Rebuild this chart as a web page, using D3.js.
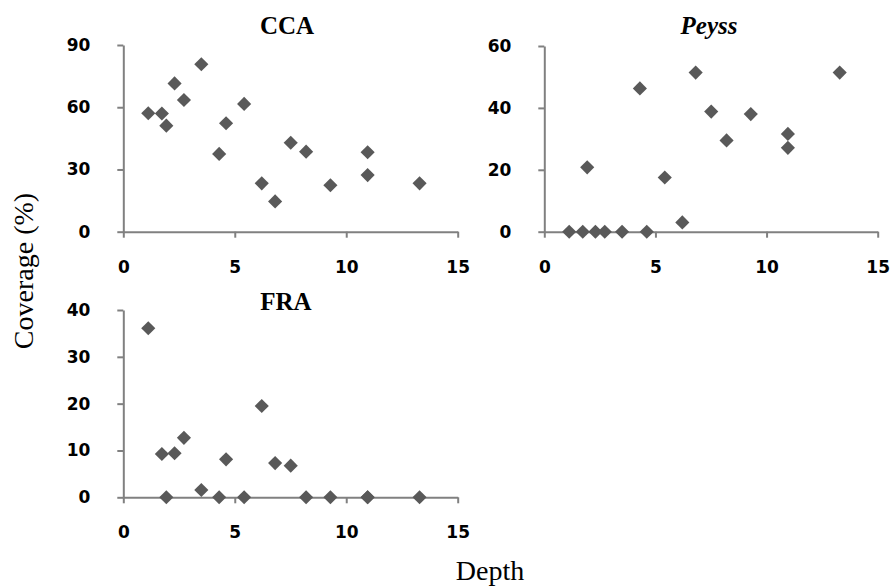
<!DOCTYPE html>
<meta charset="utf-8">
<style>
  body { margin: 0; background: #fff; }
  .axis path,
  .axis line {
    stroke: #808080;
    stroke-width: 2;
  }
  .axis text {
    font-family: "DejaVu Sans", sans-serif;
    font-weight: bold;
    font-size: 17px;
    fill: #000;
  }
  .title {
    font-family: "Liberation Serif", serif;
    font-weight: bold;
    font-size: 25px;
  }
  .label {
    font-family: "Liberation Serif", serif;
    font-size: 28px;
  }
</style>

<svg width="890" height="588"></svg>

<script src="https://d3js.org/d3.v7.min.js"></script>

<script>

  // Depth of each quadrat (shared by the three panels)
  var depth = [1.12, 1.73, 1.93, 2.3, 2.72, 3.5, 4.3, 4.61, 5.42, 6.21, 6.81, 7.51, 8.2, 9.29, 10.96, 10.96, 13.29];

  // Coverage (%) per group
  var ccaCover = [57.1, 57, 51.1, 71.5, 63.5, 80.7, 37.5, 52.3, 61.6, 23.3, 14.6, 42.9, 38.6, 22.4, 38.3, 27.3, 23.3];
  var peyssCover = [0, 0, 20.8, 0, 0, 0, 46.3, 0, 17.5, 3, 51.4, 38.8, 29.5, 38, 31.6, 27.1, 51.4];
  var fraCover = [36.1, 9.25, 0, 9.4, 12.7, 1.56, 0, 8.1, 0, 19.5, 7.3, 6.75, 0, 0, 0, 0, 0];

  // Tick labels
  var depthTicks = [0, 5, 10, 15];
  var ccaTicks = [0, 30, 60, 90];
  var peyssTicks = [0, 20, 40, 60];
  var fraTicks = [0, 10, 20, 30, 40];

  var svg = d3.select("svg");

  // Panel layout: left/right of x axis, bottom/top of y axis
  var panels = [
    { name: "CCA", italic: false, values: ccaCover, ticks: ccaTicks, x0: 123.3, x1: 457.7, y0: 231.7, y1: 45, tx: 287, ty: 34 },
    { name: "Peyss", italic: true, values: peyssCover, ticks: peyssTicks, x0: 544.3, x1: 877.7, y0: 231.7, y1: 46, tx: 709, ty: 34 },
    { name: "FRA", italic: false, values: fraCover, ticks: fraTicks, x0: 123.3, x1: 457.7, y0: 497.3, y1: 310, tx: 286, ty: 310 }
  ];

  var diamond = d3.symbol().type(d3.symbolSquare).size(100);

  panels.forEach(function (p) {
    var x = d3.scaleLinear()
      .domain([0, 15])
      .range([p.x0, p.x1]);

    var y = d3.scaleLinear()
      .domain([0, d3.max(p.ticks)])
      .range([p.y0, p.y1]);

    // y axis
    svg.append("g")
      .attr("class", "axis")
      .attr("transform", "translate(" + p.x0 + ",0)")
      .call(d3.axisLeft(y)
        .tickValues(p.ticks)
        .tickSize(6)
        .tickSizeOuter(0)
        .tickPadding(27));

    // x axis
    svg.append("g")
      .attr("class", "axis")
      .attr("transform", "translate(0," + p.y0 + ")")
      .call(d3.axisBottom(x)
        .tickValues(depthTicks)
        .tickSize(6)
        .tickSizeOuter(0)
        .tickPadding(23));

    // Points
    svg.append("g")
      .selectAll("path")
      .data(p.values)
      .enter().append("path")
      .attr("d", diamond)
      .attr("fill", "#595959")
      .attr("transform", function (d, i) {
        return "translate(" + x(depth[i]) + "," + y(d) + ") rotate(45)";
      });

    // Title
    svg.append("text")
      .attr("class", "title")
      .attr("x", p.tx)
      .attr("y", p.ty)
      .attr("text-anchor", "middle")
      .style("font-style", p.italic ? "italic" : "normal")
      .text(p.name);
  });

  // Axis labels
  svg.append("text")
    .attr("class", "label")
    .attr("transform", "translate(33,271) rotate(-90)")
    .attr("text-anchor", "middle")
    .text("Coverage (%)");

  svg.append("text")
    .attr("class", "label")
    .attr("x", 490)
    .attr("y", 580)
    .attr("text-anchor", "middle")
    .text("Depth");

</script>
